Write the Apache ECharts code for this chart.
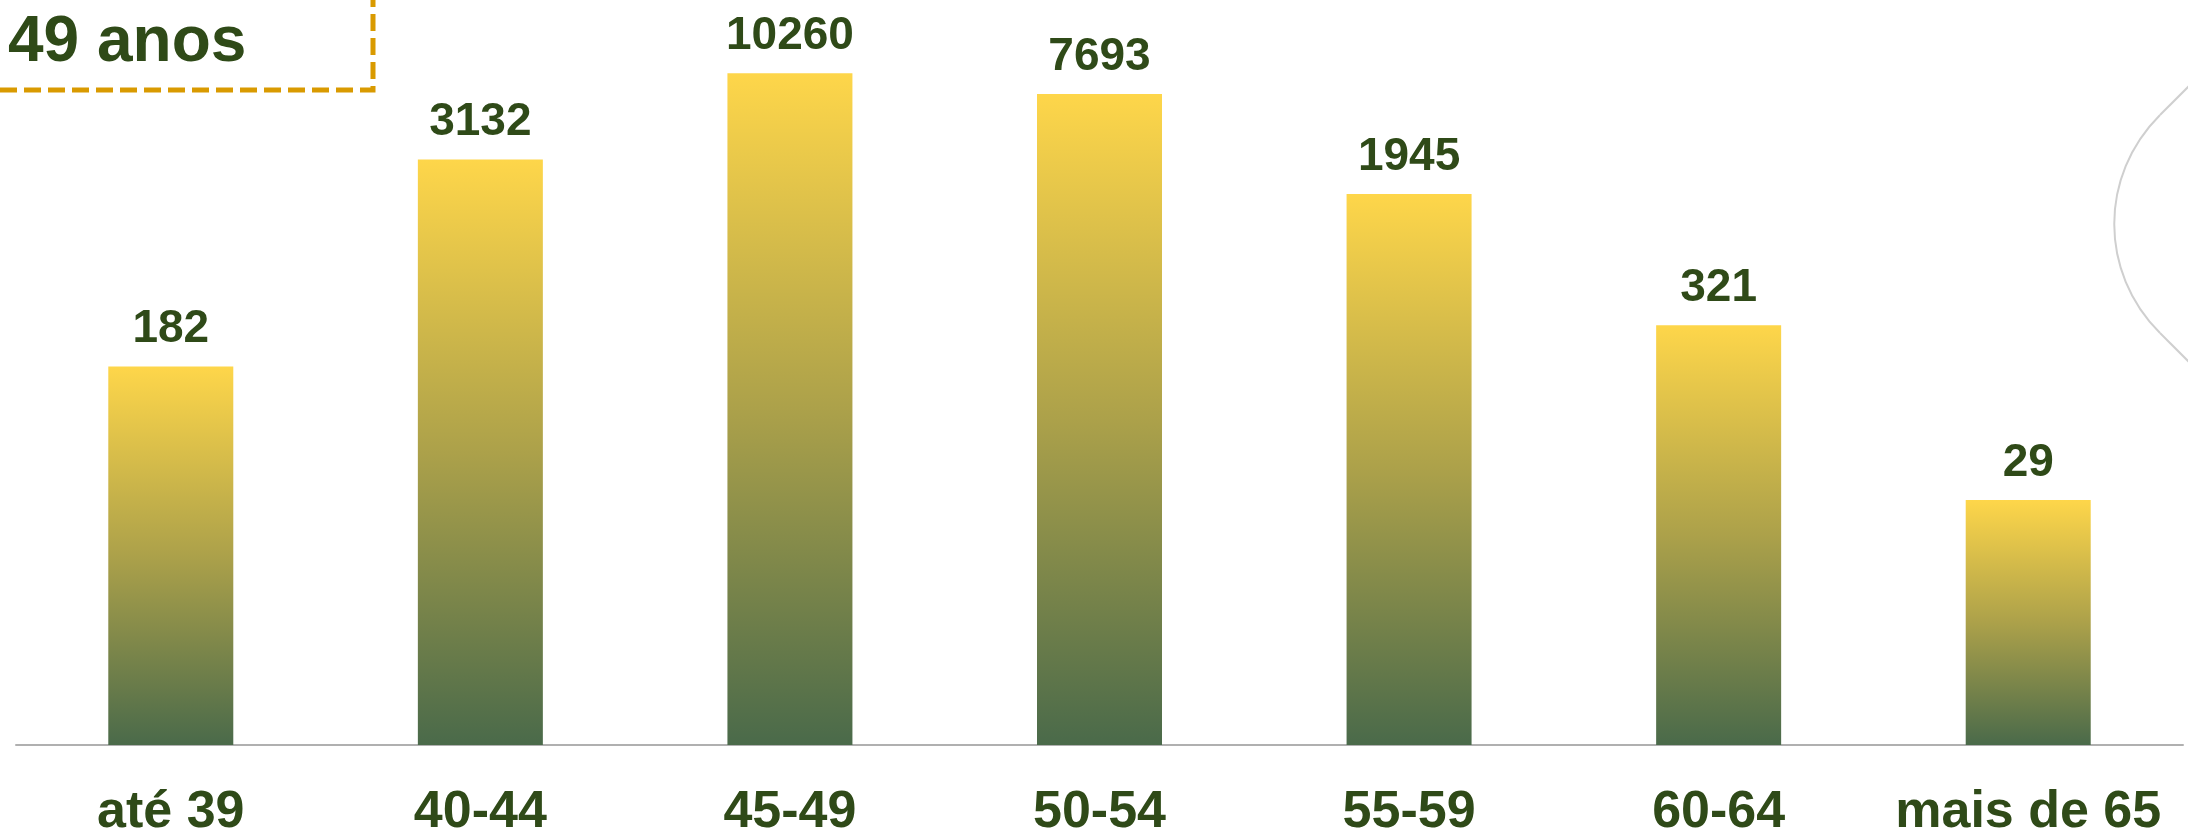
<!DOCTYPE html>
<html><head><meta charset="utf-8">
<script src="https://cdn.jsdelivr.net/npm/echarts@6/dist/echarts.min.js"></script>
<style>html,body{margin:0;padding:0;background:#fff}#c{width:2188px;height:830px}</style>
</head><body><div id="c"></div>
<script>
const categories = ['até 39','40-44','45-49','50-54','55-59','60-64','mais de 65'];
const values = [182,3132,10260,7693,1945,321,29];
const titleText = '49 anos';

const FONT = '"Liberation Sans", Arial, Helvetica, sans-serif';
const TXT = '#2f4a18';
const chart = echarts.init(document.getElementById('c'), null, {renderer:'canvas'});
const deco = {stroke:'#cfcfcf', lineWidth:2, fill:null};
chart.setOption({
  animation:false,
  backgroundColor:'#ffffff',
  grid:{left:16, right:5, bottom:85, top:24.6, containLabel:false, outerBoundsMode:'none'},
  xAxis:{type:'category', data:categories,
    axisLine:{show:true, lineStyle:{color:'#b0b0b0', width:2}},
    axisTick:{show:false},
    axisLabel:{color:TXT, fontFamily:FONT, fontWeight:'bold', fontSize:52, margin:42, interval:0}
  },
  yAxis:{type:'log', logBase:10, min:1, max:20000, show:false, splitLine:{show:false}},
  series:[{type:'bar', data:values, barWidth:125,
    itemStyle:{color:new echarts.graphic.LinearGradient(0,0,0,1,[
      {offset:0,color:'#fed64a'},{offset:0.5,color:'#aca14a'},{offset:1,color:'#4a6a4a'}])},
    label:{show:true, position:'top', distance:14, color:TXT, fontFamily:FONT, fontWeight:'bold', fontSize:46}
  }],
  graphic:[
    {type:'text', left:8, top:11, style:{text:titleText, fill:TXT, font:'bold 64px ' + FONT}},
    {type:'polyline', shape:{points:[[0,90],[373,90],[373,0]]}, style:{stroke:'#d99a00', lineWidth:5, lineDash:[17,7], fill:null}},
    {type:'line', shape:{x1:2189,y1:86,x2:2160,y2:115}, style:deco},
    {type:'bezierCurve', shape:{x1:2160,y1:115,cpx1:2099,cpy1:176,cpx2:2099,cpy2:272,x2:2160,y2:333}, style:deco},
    {type:'line', shape:{x1:2160,y1:333,x2:2189,y2:362}, style:deco}
  ]
});
</script></body></html>
